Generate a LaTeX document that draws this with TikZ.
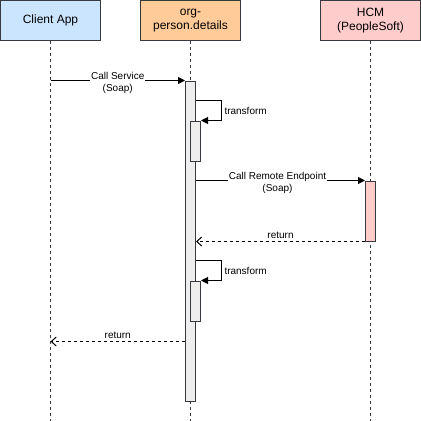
\documentclass[tikz,border=0pt]{standalone}
\usepackage{fontspec}
\setmainfont{Liberation Sans}
\usetikzlibrary{arrows.meta}
\definecolor{SQ1}{HTML}{CCE5FF}
\definecolor{SQ2}{HTML}{FFCC99}
\definecolor{SQ3}{HTML}{FFCCCC}
\definecolor{SQact}{HTML}{EEEEEE}
\definecolor{SQline}{HTML}{36393D}
\tikzstyle{lifebox} = [rectangle, minimum width=100pt, minimum height=40pt, text centered, align=center, draw=SQline, font=\fontsize{12}{14}\selectfont]
\tikzstyle{activation} = [rectangle, minimum width=10pt, inner sep=0pt, anchor=north, draw=SQline, fill=SQact]
\tikzstyle{lifeline} = [draw=SQline, dash pattern=on 3pt off 3pt]
\tikzstyle{call} = [-{Triangle[length=7pt,width=7pt]}]
\tikzstyle{reply} = [dash pattern=on 3pt off 3pt, -{Straight Barb[length=5pt,width=9pt]}]
\tikzstyle{msglabel} = [font=\fontsize{10}{12}\selectfont, fill=white, align=center, inner sep=1pt]

\begin{document}
\begin{tikzpicture}[x=1pt, y=-1pt, node distance=140pt, line width=1pt]
\useasboundingbox (-0.5,-0.5) rectangle (420.5,420.5);

\node (app) [lifebox, fill=SQ1] at (50,20) {Client App};
\node (svc) [lifebox, fill=SQ2, right of=app] {org-\\person.details};
\node (hcm) [lifebox, fill=SQ3, right of=svc, xshift=40pt] {HCM\\(PeopleSoft)};

\coordinate (append) at (50,420);
\coordinate (svcend) at (190,420);
\coordinate (hcmend) at (370,420);

\draw [lifeline] (app) -- (append);
\draw [lifeline] (svc) -- (svcend);
\draw [lifeline] (hcm) -- (hcmend);

\node (act1) [activation, minimum height=320pt] at (190,80) {};
\node (sub1) [activation, minimum height=40pt] at (195,120) {};
\node (sub2) [activation, minimum height=40pt] at (195,280) {};
\node (act2) [activation, fill=SQ3, minimum height=60pt] at (370,180) {};

%\coordinate (loop1) at (0,100);
\coordinate (loop1) at (0,100);
\coordinate (loop2) at (0,260);
\coordinate (ret) at (0,341);

\draw [call] (app |- act1.north) -- node [msglabel, yshift=-2.5pt] {Call Service\\(Soap)} (act1.north west);
\draw [call] (act1.east |- loop1) -- ++(25,0) -- node [msglabel, right, fill=none, xshift=2pt] {transform} ++(0,20) -- (sub1.north east);

\draw [call] (act1.east |- act2.north) -- node [msglabel, yshift=-2.5pt, xshift=-3pt] {Call Remote Endpoint\\(Soap)} (act2.north west);
\draw [reply] (act2.south west) -- node [msglabel, above, yshift=1.5pt] {return} (act1.east |- act2.south);

\draw [call] (act1.east |- loop2) -- ++(25,0) -- node [msglabel, right, fill=none, xshift=2pt] {transform} ++(0,20) -- (sub2.north east);
\draw [reply] (act1.west |- ret) -- node [msglabel, above, yshift=1.5pt] {return} (app |- ret);

\end{tikzpicture}
\end{document}
